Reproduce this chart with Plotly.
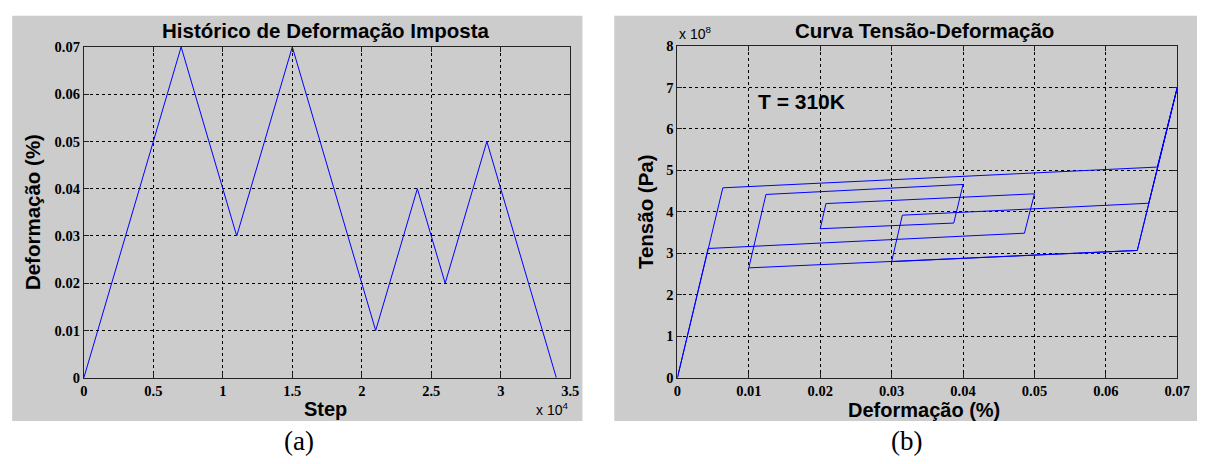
import plotly.graph_objects as go

# ---------------- data ----------------
# (a) imposed strain history
steps = [0, 7000, 11000, 15000, 21000, 24000, 26000, 29000, 34000]
strain_hist = [0, 0.07, 0.03, 0.07, 0.01, 0.04, 0.02, 0.05, 0]

# (b) stress-strain response
strain_b = [0, 0.00636, 0.0672, 0.07, 0.0644, 0.030, 0.0315, 0.066, 0.07, 0.0644,
            0.010, 0.0124, 0.040, 0.0387, 0.020, 0.0208, 0.050, 0.0486, 0.0043, 0]
stress_b = [0, 4.58e8, 5.08e8, 7.0e8, 3.07e8, 2.80e8, 3.92e8, 4.208e8, 7.0e8, 3.07e8,
            2.65e8, 4.42e8, 4.66e8, 3.73e8, 3.594e8, 4.20e8, 4.435e8, 3.486e8, 3.117e8, 0]

xa_tickvals = [0, 5000, 10000, 15000, 20000, 25000, 30000, 35000]
xa_ticktext = ["0", "0.5", "1", "1.5", "2", "2.5", "3", "3.5"]
ya_tickvals = [0, 0.01, 0.02, 0.03, 0.04, 0.05, 0.06, 0.07]
ya_ticktext = ["0", "0.01", "0.02", "0.03", "0.04", "0.05", "0.06", "0.07"]
xb_tickvals = [0, 0.01, 0.02, 0.03, 0.04, 0.05, 0.06, 0.07]
xb_ticktext = ["0", "0.01", "0.02", "0.03", "0.04", "0.05", "0.06", "0.07"]
yb_tickvals = [0, 1e8, 2e8, 3e8, 4e8, 5e8, 6e8, 7e8, 8e8]
yb_ticktext = ["0", "1", "2", "3", "4", "5", "6", "7", "8"]

W, H = 1210, 464
def px(x): return x / W
def py(y): return 1 - y / H

SANS = "Liberation Sans"
SERIF = "Liberation Serif"
BLUE = "#0000ff"

fig = go.Figure()
fig.add_trace(go.Scatter(x=steps, y=strain_hist, mode="lines",
                         line=dict(color=BLUE, width=1), xaxis="x", yaxis="y",
                         showlegend=False, hoverinfo="skip"))
fig.add_trace(go.Scatter(x=strain_b, y=stress_b, mode="lines",
                         line=dict(color=BLUE, width=1), xaxis="x2", yaxis="y2",
                         showlegend=False, hoverinfo="skip"))

tickfont = dict(family=SERIF, size=14.5, color="black", weight="bold")
axis_common = dict(showline=True, linecolor="#222", linewidth=1, mirror="ticks",
                   ticks="inside", ticklen=5, tickcolor="#222",
                   showgrid=True, gridcolor="black", gridwidth=1, griddash="3px,3px",
                   zeroline=False, tickfont=tickfont, fixedrange=True)

fig.update_layout(
    width=W, height=H, margin=dict(l=0, r=0, t=0, b=0),
    paper_bgcolor="white", plot_bgcolor="white",
    xaxis=dict(domain=[px(81), px(574.3)], range=[0, 35000], tickvals=xa_tickvals,
               ticktext=xa_ticktext, anchor="y", **axis_common),
    yaxis=dict(domain=[py(383), py(40.3)], range=[0, 0.07], tickvals=ya_tickvals,
               ticktext=ya_ticktext, anchor="x", **axis_common),
    xaxis2=dict(domain=[px(683), px(1190)], range=[0, 0.07], tickvals=xb_tickvals,
                ticktext=xb_ticktext, anchor="y2", **axis_common),
    yaxis2=dict(domain=[py(383), py(39.3)], range=[0, 8e8], tickvals=yb_tickvals,
                ticktext=yb_ticktext, anchor="x2", **axis_common),
    shapes=[
        dict(type="rect", xref="paper", yref="paper", x0=px(8.3), x1=px(586.7),
             y0=py(427.7), y1=py(8), fillcolor="#cccccc", line=dict(width=0), layer="below"),
        dict(type="rect", xref="paper", yref="paper", x0=px(619), x1=px(1210),
             y0=py(427.7), y1=py(8), fillcolor="#cccccc", line=dict(width=0), layer="below"),
    ],
)

def ann(text, x, y, size, family=SANS, weight="bold", angle=0, xanchor="center",
        yanchor="middle", xref="paper", yref="paper"):
    fig.add_annotation(text=text, x=x, y=y, xref=xref, yref=yref, showarrow=False,
                       xanchor=xanchor, yanchor=yanchor, textangle=angle, borderpad=0,
                       font=dict(family=family, size=size, color="black", weight=weight))

ann("Histórico de Deformação Imposta", px(326.5), py(23.3), 20.5)
ann("Curva Tensão-Deformação", px(934), py(23.3), 20.5)
ann("Step", px(326), py(415), 20)
ann("Deformação (%)", px(933), py(416.5), 20)
ann("Deformação (%)", px(28.8), py(211), 20.5, angle=-90)
ann("Tensão (Pa)", px(650.5), py(211), 20.5, angle=-90)
ann("x 10<sup>4</sup>", px(556), py(415), 14, weight="normal")
ann("x 10<sup>8</sup>", px(701), py(26), 14, weight="normal")
ann("T = 310K", 0.0112, 6.66e8, 21, xanchor="left", xref="x2", yref="y2")
ann("(a)", px(299), py(448), 27, family=SERIF, weight="normal")
ann("(b)", px(915.6), py(448), 27, family=SERIF, weight="normal")

fig.write_html("out.html")
